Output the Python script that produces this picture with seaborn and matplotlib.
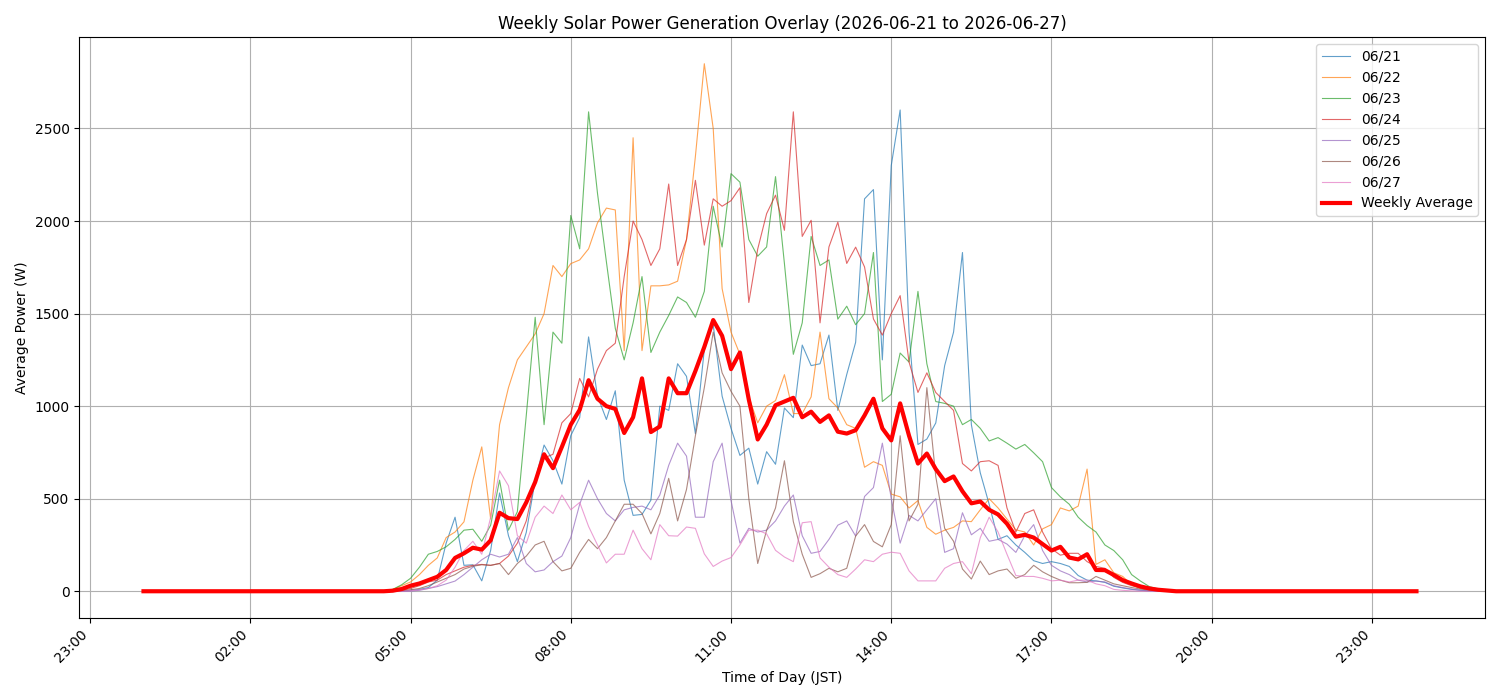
import numpy as np
import pandas as pd
import matplotlib
matplotlib.use("Agg")
from matplotlib import pyplot as plt
import matplotlib.dates as mdates
import seaborn as sns

DAY = "2026-06-21"
DAY_LABELS = ["06/21", "06/22", "06/23", "06/24", "06/25", "06/26", "06/27"]
SUN_START = "04:30"   # first non-zero slot
SUN_END = "19:10"     # last non-zero slot, 10 min steps

# power (W), one value per 10 min from 04:30 to 19:10
p_0621 = [0, 0, 0,
          5, 10, 20, 60, 260, 400,
          140, 143, 56, 221, 531, 300,
          160, 318, 599, 790, 705, 579,
          841, 938, 1374, 1054, 928, 1083,
          600, 410, 415, 492, 1000, 977,
          1229, 1161, 851, 1306, 1440, 1054,
          880, 734, 773, 579, 754, 686,
          990, 938, 1330, 1219, 1229, 1384,
          977, 1171, 1345, 2120, 2170, 1250,
          2300, 2600, 1400, 793, 822, 909,
          1219, 1400, 1830, 900, 640, 470,
          280, 300, 250, 210, 165, 150,
          160, 150, 134, 85, 60, 56,
          48, 27, 18, 10, 5, 2,
          0, 0]

p_0622 = [0, 10, 30,
          50, 90, 140, 180, 290, 320,
          375, 600, 780, 390, 900, 1100,
          1250, 1320, 1390, 1500, 1760, 1700,
          1770, 1790, 1850, 1990, 2070, 2060,
          1300, 2450, 1300, 1650, 1650, 1655,
          1675, 1900, 2350, 2850, 2500, 1635,
          1400, 1280, 1050, 910, 1000, 1030,
          1170, 960, 960, 1050, 1400, 1040,
          990, 900, 880, 670, 700, 680,
          525, 510, 450, 490, 345, 308,
          330, 345, 380, 376, 440, 500,
          450, 390, 332, 320, 250, 337,
          360, 450, 434, 460, 660, 145,
          170, 100, 80, 35, 15, 8,
          3, 0]

p_0623 = [0, 10, 35,
          70, 130, 200, 215, 240, 280,
          330, 335, 270, 357, 600, 330,
          430, 950, 1480, 900, 1400, 1340,
          2030, 1850, 2590, 2150, 1780, 1420,
          1250, 1450, 1700, 1290, 1400, 1490,
          1590, 1560, 1480, 1620, 2080, 1860,
          2256, 2210, 1900, 1810, 1860, 2240,
          1770, 1280, 1450, 1917, 1760, 1790,
          1470, 1540, 1440, 1500, 1830, 1025,
          1064, 1287, 1238, 1620, 1229, 1025,
          1015, 1000, 900, 928, 880, 812,
          830, 800, 768, 793, 748, 700,
          560, 510, 470, 400, 355, 320,
          250, 220, 170, 90, 55, 25,
          12, 5]

p_0624 = [0, 0, 5,
          15, 30, 50, 60, 90, 110,
          130, 140, 145, 140, 150, 190,
          260, 380, 600, 720, 740, 910,
          960, 1150, 1050, 1200, 1300, 1340,
          1700, 2000, 1900, 1760, 1850, 2200,
          1760, 1900, 2220, 1870, 2120, 2080,
          2110, 2180, 1560, 1849, 2040, 2140,
          1950, 2590, 1917, 2004, 1450, 1860,
          1994, 1771, 1859, 1752, 1471, 1384,
          1500, 1597, 1238, 1074, 1180, 1074,
          1025, 977, 690, 650, 700, 705,
          680, 450, 320, 420, 440, 320,
          230, 195, 205, 205, 160, 134,
          124, 75, 48, 30, 18, 10,
          5, 2]

p_0625 = [0, 0, 0,
          0, 5, 15, 25, 40, 55,
          90, 130, 170, 200, 185, 200,
          290, 150, 105, 115, 160, 190,
          290, 470, 600, 500, 420, 380,
          440, 453, 460, 440, 520, 680,
          800, 730, 400, 400, 700, 800,
          490, 260, 340, 320, 330, 380,
          460, 520, 300, 205, 215, 280,
          357, 380, 298, 512, 560, 800,
          500, 260, 410, 380, 440, 500,
          210, 230, 424, 305, 340, 270,
          280, 255, 210, 300, 360, 220,
          140, 110, 90, 60, 50, 55,
          50, 30, 20, 12, 6, 2,
          0, 0]

p_0626 = [0, 0, 3,
          8, 15, 30, 50, 70, 90,
          120, 135, 143, 140, 150, 90,
          150, 190, 250, 270, 160, 110,
          124, 210, 280, 230, 290, 380,
          470, 470, 420, 310, 420, 610,
          380, 550, 841, 1100, 1400, 1180,
          1080, 1000, 500, 150, 330, 450,
          705, 376, 200, 75, 95, 124,
          105, 124, 298, 360, 269, 240,
          360, 840, 380, 470, 1100, 620,
          340, 270, 120, 66, 163, 90,
          110, 120, 70, 90, 140, 105,
          80, 60, 46, 46, 48, 80,
          60, 40, 30, 20, 12, 6,
          2, 0]

p_0627 = [0, 0, 0,
          3, 8, 15, 30, 60, 130,
          220, 270, 200, 400, 650, 570,
          300, 260, 400, 460, 420, 520,
          440, 480, 350, 250, 153, 200,
          200, 330, 230, 170, 360, 300,
          298, 347, 340, 202, 134, 163,
          182, 250, 330, 330, 310, 221,
          185, 160, 370, 376, 180, 130,
          90, 75, 120, 170, 160, 200,
          211, 205, 110, 56, 56, 56,
          124, 150, 160, 95, 289, 400,
          320, 200, 85, 80, 80, 70,
          56, 60, 50, 60, 60, 40,
          30, 10, 5, 2, 0, 0,
          0, 0]

p_avg = [0, 3, 12,
         30, 42, 60, 78, 115, 180,
         205, 235, 225, 275, 424, 395,
         390, 480, 590, 740, 665, 780,
         900, 980, 1140, 1040, 1000, 985,
         855, 940, 1150, 860, 890, 1150,
         1070, 1070, 1190, 1320, 1465, 1380,
         1200, 1290, 1035, 820, 900, 1005,
         1025, 1045, 940, 970, 915, 950,
         862, 852, 870, 950, 1040, 880,
         815, 1015, 840, 690, 744, 660,
         595, 620, 540, 475, 485, 440,
         415, 365, 295, 305, 290, 255,
         220, 240, 182, 172, 200, 115,
         114, 88, 60, 42, 26, 15,
         8, 4]

day_series = [p_0621, p_0622, p_0623, p_0624, p_0625, p_0626, p_0627]


def full_day(values):
    """Put the daytime values on a whole-day 10 min grid, zero at night"""
    idx = pd.date_range(f"{DAY} 00:00", f"{DAY} 23:50", freq="10min")
    s = pd.Series(0.0, index=idx)
    sun = pd.date_range(f"{DAY} {SUN_START}", f"{DAY} {SUN_END}", freq="10min")
    s.loc[sun] = values
    return pd.DataFrame({"time": s.index, "power": s.values})


fig, ax = plt.subplots(figsize=(15, 7), dpi=100)
colors = sns.color_palette("tab10", 7)

for lbl, vals, c in zip(DAY_LABELS, day_series, colors):
    df = full_day(vals)
    sns.lineplot(data=df, x="time", y="power", color=c, linewidth=0.8,
                 alpha=0.7, label=lbl, ax=ax)

avg = full_day(p_avg)
sns.lineplot(data=avg, x="time", y="power", color="red", linewidth=3,
             label="Weekly Average", ax=ax)

ax.set_xlim(pd.Timestamp(f"{DAY} 00:00") - pd.Timedelta(minutes=72),
            pd.Timestamp(f"{DAY} 23:55") + pd.Timedelta(minutes=72))
ax.xaxis.set_major_locator(mdates.HourLocator(byhour=[2, 5, 8, 11, 14, 17, 20, 23]))
ax.xaxis.set_major_formatter(mdates.DateFormatter("%H:%M"))
plt.setp(ax.get_xticklabels(), rotation=45, ha="right")

ax.set_title("Weekly Solar Power Generation Overlay (2026-06-21 to 2026-06-27)")
ax.set_xlabel("Time of Day (JST)")
ax.set_ylabel("Average Power (W)")
ax.grid(True)
ax.legend(loc="upper right")

plt.tight_layout()
plt.savefig("out.png", dpi=100)
